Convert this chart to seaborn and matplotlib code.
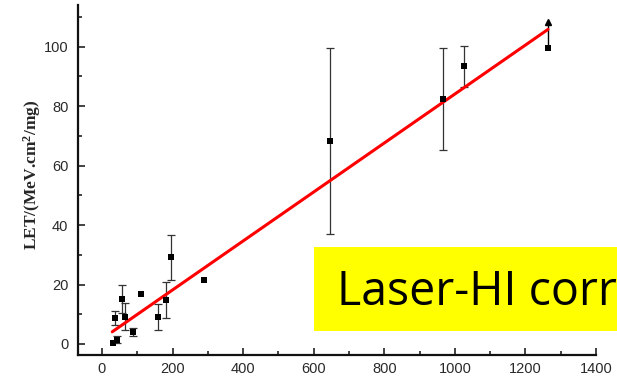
import numpy as np
import pandas as pd
import matplotlib
matplotlib.use("Agg")
import matplotlib.pyplot as plt
import seaborn as sns
from matplotlib.ticker import MultipleLocator
from matplotlib.patches import Rectangle

# ---- data ----
energy = [32, 42, 37, 58, 65, 87, 110, 160, 182, 195, 290, 645, 966, 1026, 1264]
let_vals = [0.3, 1.5, 8.7, 15.1, 9.2, 4.1, 16.8, 9.2, 14.8, 29.1, 21.4, 68.3, 82.4, 93.4, 99.4]
let_err = [0, 1.2, 2.3, 4.6, 4.5, 1.3, 0, 4.4, 6.0, 7.7, 0, 31.3, 17.3, 6.9, 0]
arrow_x = [1264]
arrow_y = [108.3]
fit_x = [29, 1264]
fit_y = [4.1, 105.8]
x_ticks = [0, 200, 400, 600, 800, 1000, 1200, 1400]
y_ticks = [0, 20, 40, 60, 80, 100]
ylabel = r"LET/(MeV.cm$^{2}$/mg)"
banner = "Laser-HI correlation"

df = pd.DataFrame({"E": energy, "LET": let_vals, "err": let_err})
fit = pd.DataFrame({"E": fit_x, "LET": fit_y})

sns.set_style("ticks")
plt.rcParams["font.family"] = ["Liberation Sans", "DejaVu Sans"]
plt.rcParams["mathtext.fontset"] = "custom"
plt.rcParams["mathtext.rm"] = "Liberation Serif:bold"
plt.rcParams["mathtext.it"] = "Liberation Serif:bold"
plt.rcParams["mathtext.bf"] = "Liberation Serif:bold"

fig = plt.figure(figsize=(6.17, 3.78), dpi=100)
ax = fig.add_axes([78/617, 1-355/378, (596-78)/617, (355-5)/378])

# error bars
sub = df[df["err"] > 0]
ax.errorbar(sub["E"], sub["LET"], yerr=sub["err"], fmt="none", ecolor="#333333",
            elinewidth=0.9, capsize=3, capthick=0.9, zorder=2)
# upward arrow on the last point
ax.vlines(arrow_x, [let_vals[-1]], arrow_y, color="black", lw=1.0, zorder=2)
ax.plot(arrow_x, arrow_y, marker="^", color="black", markersize=5, ls="none", zorder=3)

sns.lineplot(data=fit, x="E", y="LET", color="red", lw=2.2, ax=ax, zorder=4)
sns.scatterplot(data=df, x="E", y="LET", marker="s", color="black", s=16,
                edgecolor="black", linewidth=0, ax=ax, zorder=5)

ax.set_xlim(-68, 1400)
ax.set_ylim(-3.7, 114)
ax.set_xticks(x_ticks)
ax.set_yticks(y_ticks)
ax.xaxis.set_minor_locator(MultipleLocator(100))
ax.yaxis.set_minor_locator(MultipleLocator(10))
ax.tick_params(which="major", direction="in", length=5, width=1.2, colors="#222222",
               labelcolor="#2a2a2a", labelsize=10.5)
ax.tick_params(which="minor", direction="in", length=3, width=1.2, colors="#222222")
ax.tick_params(axis="y", pad=7)
ax.tick_params(axis="x", pad=5)
for s in ["top", "right"]:
    ax.spines[s].set_visible(False)
for s in ["left", "bottom"]:
    ax.spines[s].set_linewidth(1.6)
    ax.spines[s].set_color("#111111")

ax.set_xlabel("")
ax.set_ylabel(ylabel, fontdict=dict(family="Liberation Serif", weight="bold", size=12.5))
ax.yaxis.set_label_coords(-0.068, 0.515)

fig.patches.append(Rectangle((314/617, 1-331/378), 0.6, 84/378, transform=fig.transFigure,
                             facecolor="#FFFF00", edgecolor="none", zorder=10))
fig.text(337/617, 1-305/378, banner, family=["Open Sans", "DejaVu Sans"], fontsize=33.5,
         color="black", va="baseline", ha="left", zorder=11)

fig.savefig("out.png", dpi=100)
